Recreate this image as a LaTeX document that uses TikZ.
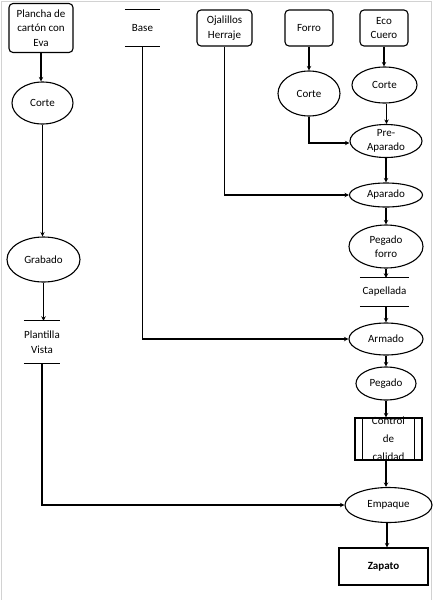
\documentclass[tikz,border=0pt]{standalone}
\usepackage{fontspec}
\setmainfont{Carlito}
\usetikzlibrary{shapes.geometric,arrows.meta}
\begin{document}
\begin{tikzpicture}[x=1pt,y=-1pt,
  every node/.style={font=\fontsize{11}{14.5}\selectfont, align=center, inner sep=0pt},
  conn/.style={line width=1.1pt, draw=black},
  arr/.style={conn, -{Stealth[length=4.5pt,width=4.5pt]}},
  rbox/.style={draw, line width=1.1pt, rounded corners=4pt},
  sbox/.style={draw, line width=1.1pt},
  proc/.style={draw, ellipse, line width=1.1pt},
  store/.style={}
]
\useasboundingbox (0,0) rectangle (433,600);
\draw[gray!35, line width=1pt] (1,600) -- (1,1) -- (431.5,1) -- (431.5,600);

% left column
\node[rbox, minimum width=64pt, minimum height=49pt] (plancha) at (41,28) {Plancha de\\cartón con\\Eva};
\node[proc, minimum width=61pt, minimum height=42pt] (corte1) at (42.5,103) {Corte};
\node[proc, minimum width=73pt, minimum height=45pt] (grabado) at (43.5,259.5) {Grabado};
\node[store, minimum width=36pt, minimum height=42pt] (plantilla) at (42,342) {Plantilla\\Vista};

% top row
\node[store, minimum width=35pt, minimum height=36pt] (base) at (142.5,28) {Base};
\node[rbox, minimum width=55pt, minimum height=36pt] (ojal) at (224.5,28) {Ojalillos\\Herraje};
\node[rbox, minimum width=48pt, minimum height=36pt] (forro) at (309,28) {Forro};
\node[rbox, minimum width=48pt, minimum height=36pt] (eco) at (384,28) {Eco\\Cuero};

\node[proc, minimum width=62pt, minimum height=45pt] (corte2) at (309,93.5) {Corte};
\node[proc, minimum width=65pt, minimum height=36pt] (corte3) at (384.5,85) {Corte};

% main chain
\node[proc, minimum width=72pt, minimum height=32pt] (prea) at (386,141) {Pre-\\Aparado};
\node[proc, minimum width=73pt, minimum height=24pt] (aparado) at (386,195) {Aparado};
\node[proc, minimum width=74pt, minimum height=43pt] (pegforro) at (386,246.5) {Pegado\\forro};
\node[store, minimum width=49pt, minimum height=28pt] (capellada) at (384.5,292) {Capellada};
\node[proc, minimum width=74pt, minimum height=32pt] (armado) at (386,339) {Armado};
\node[proc, minimum width=60pt, minimum height=33pt] (pegado) at (386,383.5) {Pegado};
\node[sbox, minimum width=67pt, minimum height=42pt] (control) at (388.5,439) {};
\node[font=\fontsize{11}{18}\selectfont] (controltxt) at (388.5,438.5) {Control\\de\\calidad};
\node[proc, minimum width=87pt, minimum height=35pt] (empaque) at (388.5,505) {Empaque};
\node[sbox, minimum width=89pt, minimum height=37pt, font=\fontsize{11}{14.5}\selectfont\bfseries] (zapato) at (383.5,566.5) {Zapato};

% store lines
\draw[conn] (plantilla.north west) -- (plantilla.north east);
\draw[conn] (plantilla.south west) -- (plantilla.south east);
\draw[conn] (base.north west) -- (base.north east);
\draw[conn] (base.south west) -- (base.south east);
\draw[conn] (capellada.north west) -- (capellada.north east);
\draw[conn] (capellada.south west) -- (capellada.south east);
\draw[conn] ([xshift=8pt]control.north west) -- ([xshift=8pt]control.south west);
\draw[conn] ([xshift=-8pt]control.north east) -- ([xshift=-8pt]control.south east);

% connectors
\draw[arr] (plancha.south) -- (plancha.south |- corte1.north);
\draw[arr] (corte1.south) -- (corte1.south |- grabado.north);
\draw[arr] (grabado.south) -- (grabado.south |- plantilla.north);
\draw[arr] (plantilla.south) |- (empaque.west);
\draw[arr] (base.south) |- (armado.west);
\draw[arr] (ojal.south) |- (aparado.west);
\draw[arr] (forro.south) -- (forro.south |- corte2.north);
\draw[arr] (eco.south) -- (eco.south |- corte3.north);
\draw[arr] (corte2.south) |- ([yshift=-2pt]prea.west);
\draw[arr] ([xshift=2pt]corte3.south) -- ([xshift=2pt]corte3.south |- prea.north);
\draw[arr] (prea.south) -- (prea.south |- aparado.north);
\draw[arr] (aparado.south) -- (aparado.south |- pegforro.north);
\draw[arr] (pegforro.south) -- (pegforro.south |- capellada.north);
\draw[arr] (pegforro.south |- capellada.south) -- (pegforro.south |- armado.north);
\draw[arr] (armado.south) -- (armado.south |- pegado.north);
\draw[arr] (pegado.south) -- (pegado.south |- control.north);
\draw[arr] (pegado.south |- control.south) -- (pegado.south |- empaque.north);
\draw[arr] ([xshift=-1.5pt]empaque.south) -- ([xshift=-1.5pt]empaque.south |- zapato.north);
\end{tikzpicture}
\end{document}
